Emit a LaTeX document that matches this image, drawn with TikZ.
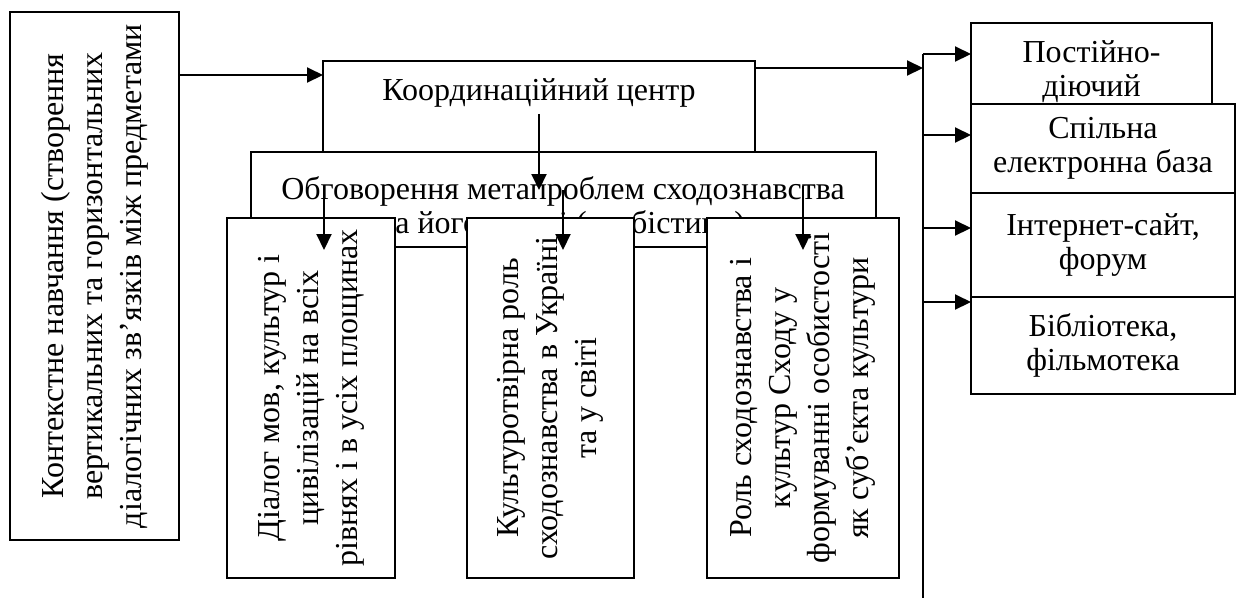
\documentclass[tikz,border=0pt]{standalone}
\usepackage{fontspec}
\setmainfont{Liberation Serif}
\usetikzlibrary{arrows.meta}
\tikzset{
  box/.style={draw,line width=1pt,fill=white,inner sep=0pt,outer sep=0pt},
  htext/.style={align=center,font=\fontsize{16}{17}\selectfont},
  vtext/.style={rotate=90,align=center,font=\fontsize{16}{19.5}\selectfont},
  arr/.style={line width=1pt,-{Triangle[length=8pt,width=7.5pt]}},
  bus/.style={line width=1pt}
}
\begin{document}
\begin{tikzpicture}[x=0.5pt,y=-0.5pt]
  \useasboundingbox (0,0) rectangle (1240,601);
  %% left block
  \node[box,minimum width=84.5pt,minimum height=264pt] (ctx) at (94.5,276) {};
  \node[vtext] (ctxtxt) at (94.5,276) {Контекстне навчання (створення\\вертикальних та горизонтальних\\діалогічних зв’язків між предметами};
  %% centre
  \node[box,minimum width=216pt,minimum height=69.5pt] (koord) at (539,130.5) {};
  \node[htext,anchor=base] (koordtxt) at (539,100) {Координаційний центр};
  \node[box,minimum width=312.5pt,minimum height=47.5pt] (obg) at (563.5,199.5) {};
  \node[htext] (obgtxt) at (563,208) {Обговорення метапроблем сходознавства\\та його галузі (арабістики)};
  \coordinate (kin) at (323,75);
  \coordinate (kend) at (539,190);
  \draw[arr] (kin -| ctx.east) -- (kin);
  \draw[arr] (koordtxt.south) -- (kend);
  %% three themes
  \node[box,minimum width=84pt,minimum height=180pt] (dial) at (311,398) {};
  \node[box,minimum width=83.5pt,minimum height=180pt] (kult) at (550.5,398) {};
  \node[box,minimum width=96pt,minimum height=180pt] (rol) at (803,398) {};
  \node[vtext] (dialtxt) at (dial) {Діалог мов, культур і\\цивілізацій на всіх\\рівнях і в усіх площинах};
  \node[vtext] (kulttxt) at (kult) {Культуротвірна роль\\сходознавства в Україні\\та у світі};
  \node[vtext] (roltxt) at (rol) {Роль сходознавства і\\культур Сходу у\\формуванні особистості\\як суб’єкта культури};
  \coordinate (t1) at (324,186); \coordinate (h1) at (324,250);
  \coordinate (t2) at (563,190); \coordinate (h2) at (563,250);
  \coordinate (t3) at (803,186); \coordinate (h3) at (803,250);
  \foreach \n in {1,2,3}
    \draw[arr] (t\n) -- (h\n);
  %% right column
  \node[box,htext,minimum width=120.5pt,minimum height=49pt] (post) at (1091.5,72) {Постійно-\\діючий};
  \node[box,htext,minimum width=132pt,minimum height=44.5pt] (spil) at (1103,148.5) {Спільна\\електронна база};
  \node[box,htext,minimum width=132pt,minimum height=52pt] (inet) at (1103,245) {Інтернет-сайт,\\форум};
  \node[box,htext,minimum width=132pt,minimum height=48.5pt] (bibl) at (1103,345.5) {Бібліотека,\\фільмотека};
  %% bus
  \coordinate (b0) at (923,68);
  \coordinate (b1) at (923,54);
  \coordinate (b2) at (923,135);
  \coordinate (b3) at (923,228);
  \coordinate (b4) at (923,302);
  \coordinate (bend) at (923,598);
  \draw[arr] (b0 -| koord.east) -- (b0);
  \draw[bus] (b1) -- (bend);
  \draw[arr] (b1) -- (b1 -| post.west);
  \draw[arr] (b2) -- (b2 -| spil.west);
  \draw[arr] (b3) -- (b3 -| inet.west);
  \draw[arr] (b4) -- (b4 -| bibl.west);
\end{tikzpicture}
\end{document}
